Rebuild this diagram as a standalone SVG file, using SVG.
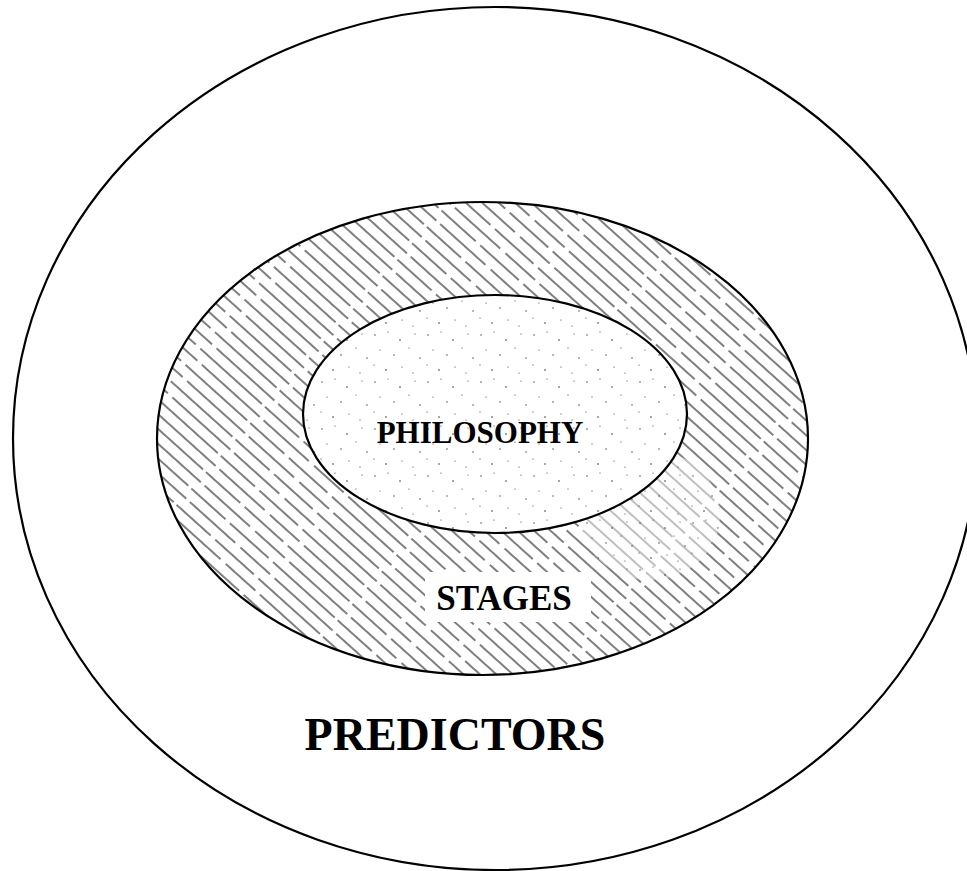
<svg xmlns="http://www.w3.org/2000/svg" width="967" height="871" viewBox="0 0 967 871">
  <style>
    .ring { fill: none; stroke: #000; stroke-width: 2.2; }
    .lbl { font-family: "Liberation Serif", "Times New Roman", serif; font-weight: bold; fill: #000; text-anchor: middle; }
  </style>
  <defs>
    <pattern id="hatch" width="197" height="22" patternUnits="userSpaceOnUse" patternTransform="rotate(42)">
      <line x1="0" y1="4" x2="197" y2="4" stroke="#000" stroke-width="1.2" stroke-dasharray="78 5 61 7 40 6"/>
      <line x1="0" y1="15" x2="197" y2="15" stroke="#000" stroke-width="1.2" stroke-dasharray="52 6 83 4 46 6" stroke-dashoffset="70"/>
    </pattern>
    <pattern id="stipple" width="53" height="47" patternUnits="userSpaceOnUse">
      <g fill="#333">
        <circle cx="4" cy="6" r="0.7"/>
        <circle cx="17" cy="3" r="0.6"/>
        <circle cx="29" cy="11" r="0.8"/>
        <circle cx="44" cy="5" r="0.6"/>
        <circle cx="9" cy="21" r="0.6"/>
        <circle cx="23" cy="26" r="0.7"/>
        <circle cx="38" cy="19" r="0.6"/>
        <circle cx="49" cy="29" r="0.7"/>
        <circle cx="3" cy="36" r="0.6"/>
        <circle cx="15" cy="41" r="0.8"/>
        <circle cx="31" cy="38" r="0.6"/>
        <circle cx="42" cy="44" r="0.6"/>
      </g>
    </pattern>
    <clipPath id="ringClip">
      <path d="M157,438.5 a325.5,236.5 0 1,0 651,0 a325.5,236.5 0 1,0 -651,0 Z M303,414 a192,119 0 1,1 384,0 a192,119 0 1,1 -384,0 Z" clip-rule="evenodd"/>
    </clipPath>
  </defs>

  <rect width="967" height="871" fill="#fff"/>

  <g id="predictors">
    <ellipse class="ring" cx="495" cy="438.5" rx="482" ry="431.5"/>
    <text class="lbl" x="455" y="750" font-size="46">PREDICTORS</text>
  </g>

  <g id="stages">
    <ellipse cx="482.5" cy="438.5" rx="325.5" ry="236.5" fill="url(#hatch)"/>
    <g clip-path="url(#ringClip)">
      <ellipse cx="650" cy="515" rx="70" ry="65" fill="#fff" opacity="0.5"/>
      <ellipse cx="650" cy="515" rx="70" ry="65" fill="url(#stipple)"/>
    </g>
    <ellipse class="ring" cx="482.5" cy="438.5" rx="325.5" ry="236.5"/>
    <rect x="425" y="572" width="166" height="50" fill="#fff"/>
    <text class="lbl" x="504" y="610" font-size="35">STAGES</text>
  </g>

  <g id="philosophy">
    <ellipse cx="495" cy="414" rx="192" ry="119" fill="#fff"/>
    <ellipse cx="495" cy="414" rx="192" ry="119" fill="url(#stipple)"/>
    <ellipse class="ring" cx="495" cy="414" rx="192" ry="119"/>
    <text class="lbl" x="480" y="443" font-size="31">PHILOSOPHY</text>
  </g>

  <g id="connectors"/>
</svg>
